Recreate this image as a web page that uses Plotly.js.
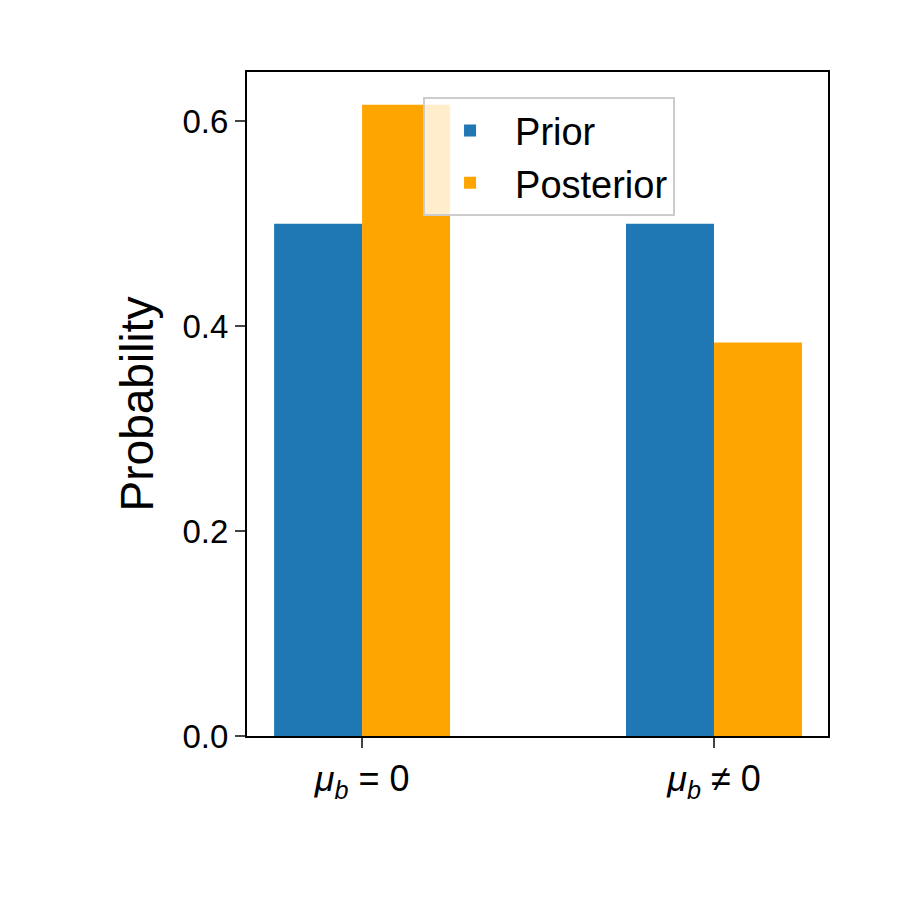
<html><head><script src="https://cdn.plot.ly/plotly-3.0.1.min.js"></script></head><body style="margin:0">
<div id="c" style="width:900px;height:900px"></div>
<script>
const categories = [0, 1];
const tickLabels = ["<i>μ</i><sub><i>b</i></sub> = 0", "<i>μ</i><sub><i>b</i></sub> ≠ 0"];
const prior = [0.5, 0.5];
const posterior = [0.616, 0.384];
Plotly.newPlot('c', [
  {type:'bar', name:'Prior', x:categories, y:prior, marker:{color:'#1f77b4'}},
  {type:'bar', name:'Posterior', x:categories, y:posterior, marker:{color:'#ffa500'}}
], {
  width:900, height:900, barmode:'group', bargap:0.5, bargroupgap:0,
  margin:{l:247, r:72, t:72, b:164},
  font:{family:'Liberation Sans, Arial', size:33, color:'black'},
  plot_bgcolor:'white', paper_bgcolor:'white', showlegend:true,
  xaxis:{range:[-0.327,1.324], tickvals:categories, ticktext:tickLabels, ticks:'outside', ticklen:10, tickwidth:2, showline:true, mirror:true, linecolor:'black', linewidth:2, showgrid:false, zeroline:false, tickfont:{size:36}},
  yaxis:{range:[0,0.648], tickvals:[0,0.2,0.4,0.6], ticktext:['0.0','0.2','0.4','0.6'], ticks:'outside', ticklen:10, tickwidth:2, showline:true, mirror:true, linecolor:'black', linewidth:2, showgrid:false, zeroline:false, title:{text:'Probability', font:{size:46}, standoff:14}},
  legend:{x:0.303, xanchor:'left', y:0.962, yanchor:'top', bgcolor:'rgba(255,255,255,0.8)', bordercolor:'#cccccc', borderwidth:2, font:{size:38}, itemwidth:80}
}, {displayModeBar:false});
</script></body></html>
